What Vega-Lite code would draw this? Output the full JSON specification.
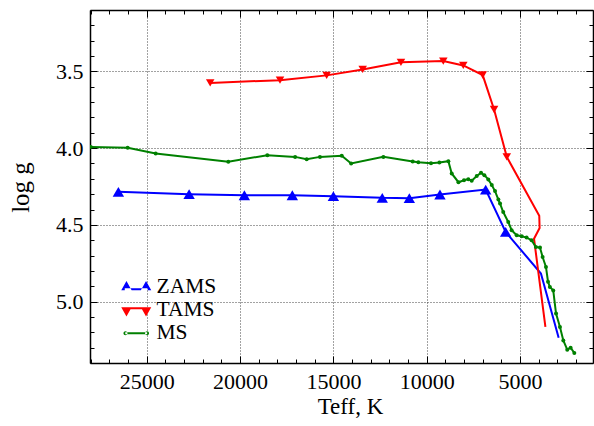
{
  "$schema": "https://vega.github.io/schema/vega-lite/v6.json",
  "width": 503,
  "height": 353,
  "autosize": "none",
  "padding": {"left": 90, "top": 10, "right": 1, "bottom": 63},
  "background": "white",
  "config": {
    "view": {"stroke": null},
    "font": "Liberation Serif",
    "axis": {
      "domainColor": "black",
      "domainWidth": 1.5,
      "tickColor": "black",
      "tickWidth": 1,
      "labelFont": "Liberation Serif",
      "labelFontSize": 22,
      "labelColor": "black",
      "titleFont": "Liberation Serif",
      "titleFontSize": 23,
      "titleFontWeight": "normal",
      "titleColor": "black",
      "gridColor": "#444444",
      "gridDash": [1, 2],
      "gridWidth": 1,
      "labelFlush": false,
      "labelOverlap": false,
      "labelBound": false
    }
  },
  "data": {
    "values": [
      {"s": "ZAMS", "i": 1, "T": 26520, "g": 4.285},
      {"s": "ZAMS", "i": 2, "T": 22730, "g": 4.300},
      {"s": "ZAMS", "i": 3, "T": 19770, "g": 4.307},
      {"s": "ZAMS", "i": 4, "T": 17200, "g": 4.307},
      {"s": "ZAMS", "i": 5, "T": 15000, "g": 4.313},
      {"s": "ZAMS", "i": 6, "T": 12380, "g": 4.324},
      {"s": "ZAMS", "i": 7, "T": 10930, "g": 4.326},
      {"s": "ZAMS", "i": 8, "T": 9290, "g": 4.302},
      {"s": "ZAMS", "i": 9, "T": 6840, "g": 4.270},
      {"s": "ZAMS", "i": 10, "T": 5770, "g": 4.546},
      {"s": "ZAMS", "i": 11, "T": 3880, "g": 4.817},
      {"s": "ZAMS", "i": 12, "T": 2930, "g": 5.235},
      {"s": "TAMS", "i": 13, "T": 21600, "g": 3.575},
      {"s": "TAMS", "i": 14, "T": 17860, "g": 3.557},
      {"s": "TAMS", "i": 15, "T": 15360, "g": 3.526},
      {"s": "TAMS", "i": 16, "T": 13430, "g": 3.487},
      {"s": "TAMS", "i": 17, "T": 11380, "g": 3.441},
      {"s": "TAMS", "i": 18, "T": 9110, "g": 3.433},
      {"s": "TAMS", "i": 19, "T": 8040, "g": 3.461},
      {"s": "TAMS", "i": 20, "T": 7000, "g": 3.524},
      {"s": "TAMS", "i": 21, "T": 6390, "g": 3.748},
      {"s": "TAMS", "i": 22, "T": 5710, "g": 4.057},
      {"s": "TAMS", "i": 23, "T": 3970, "g": 4.440},
      {"s": "TAMS", "i": 24, "T": 3950, "g": 4.520},
      {"s": "TAMS", "i": 25, "T": 4250, "g": 4.590},
      {"s": "TAMS", "i": 26, "T": 3640, "g": 5.165},
      {"s": "MS", "i": 27, "T": 28000, "g": 3.992},
      {"s": "MS", "i": 28, "T": 26020, "g": 3.998},
      {"s": "MS", "i": 29, "T": 24520, "g": 4.035},
      {"s": "MS", "i": 30, "T": 20630, "g": 4.088},
      {"s": "MS", "i": 31, "T": 18540, "g": 4.046},
      {"s": "MS", "i": 32, "T": 17050, "g": 4.057},
      {"s": "MS", "i": 33, "T": 16430, "g": 4.072},
      {"s": "MS", "i": 34, "T": 15720, "g": 4.057},
      {"s": "MS", "i": 35, "T": 14550, "g": 4.050},
      {"s": "MS", "i": 36, "T": 14050, "g": 4.100},
      {"s": "MS", "i": 37, "T": 12320, "g": 4.057},
      {"s": "MS", "i": 38, "T": 10750, "g": 4.087},
      {"s": "MS", "i": 39, "T": 10450, "g": 4.092},
      {"s": "MS", "i": 40, "T": 9770, "g": 4.098},
      {"s": "MS", "i": 41, "T": 9320, "g": 4.094},
      {"s": "MS", "i": 42, "T": 8840, "g": 4.085},
      {"s": "MS", "i": 43, "T": 8660, "g": 4.165},
      {"s": "MS", "i": 44, "T": 8300, "g": 4.222},
      {"s": "MS", "i": 45, "T": 8000, "g": 4.209},
      {"s": "MS", "i": 46, "T": 7770, "g": 4.202},
      {"s": "MS", "i": 47, "T": 7590, "g": 4.213},
      {"s": "MS", "i": 48, "T": 7320, "g": 4.181},
      {"s": "MS", "i": 49, "T": 7090, "g": 4.161},
      {"s": "MS", "i": 50, "T": 6910, "g": 4.176},
      {"s": "MS", "i": 51, "T": 6700, "g": 4.204},
      {"s": "MS", "i": 52, "T": 6515, "g": 4.240},
      {"s": "MS", "i": 53, "T": 6340, "g": 4.280},
      {"s": "MS", "i": 54, "T": 6160, "g": 4.335},
      {"s": "MS", "i": 55, "T": 6070, "g": 4.361},
      {"s": "MS", "i": 56, "T": 5900, "g": 4.416},
      {"s": "MS", "i": 57, "T": 5630, "g": 4.481},
      {"s": "MS", "i": 58, "T": 5450, "g": 4.535},
      {"s": "MS", "i": 59, "T": 5180, "g": 4.568},
      {"s": "MS", "i": 60, "T": 4910, "g": 4.574},
      {"s": "MS", "i": 61, "T": 4650, "g": 4.583},
      {"s": "MS", "i": 62, "T": 4380, "g": 4.600},
      {"s": "MS", "i": 63, "T": 4150, "g": 4.644},
      {"s": "MS", "i": 64, "T": 3930, "g": 4.648},
      {"s": "MS", "i": 65, "T": 3790, "g": 4.709},
      {"s": "MS", "i": 66, "T": 3610, "g": 4.774},
      {"s": "MS", "i": 67, "T": 3500, "g": 4.870},
      {"s": "MS", "i": 68, "T": 3400, "g": 4.905},
      {"s": "MS", "i": 69, "T": 3220, "g": 4.927},
      {"s": "MS", "i": 70, "T": 3070, "g": 5.078},
      {"s": "MS", "i": 71, "T": 2860, "g": 5.166},
      {"s": "MS", "i": 72, "T": 2680, "g": 5.253},
      {"s": "MS", "i": 73, "T": 2470, "g": 5.313},
      {"s": "MS", "i": 74, "T": 2290, "g": 5.300},
      {"s": "MS", "i": 75, "T": 2090, "g": 5.335}
    ]
  },
  "layer": [
    {
      "mark": {"type": "line", "strokeWidth": 2, "clip": true},
      "encoding": {
        "x": {
          "field": "T", "type": "quantitative",
          "scale": {"domain": [1090, 28040], "reverse": true, "nice": false, "zero": false},
          "axis": {
            "orient": "bottom",
            "values": [2000, 3000, 4000, 5000, 6000, 7000, 8000, 9000, 10000, 11000, 12000, 13000, 14000, 15000, 16000, 17000, 18000, 19000, 20000, 21000, 22000, 23000, 24000, 25000, 26000, 27000, 28000],
            "format": "d",
            "labelExpr": "datum.value % 5000 === 0 ? datum.label : ''",
            "tickSize": {"condition": {"test": "datum.value % 5000 === 0", "value": -7}, "value": -4},
            "labelPadding": 15,
            "grid": true,
            "gridOpacity": {"condition": {"test": "datum.value % 5000 === 0", "value": 1}, "value": 0},
            "title": "Teff, K",
            "titleX": 260,
            "titleY": 50,
            "titleAlign": "center",
            "titleBaseline": "alphabetic"
          }
        },
        "y": {
          "field": "g", "type": "quantitative",
          "scale": {"domain": [3.1, 5.4], "reverse": true, "nice": false, "zero": false},
          "axis": {
            "orient": "left",
            "values": [3.1, 3.2, 3.3, 3.4, 3.5, 3.6, 3.7, 3.8, 3.9, 4.0, 4.1, 4.2, 4.3, 4.4, 4.5, 4.6, 4.7, 4.8, 4.9, 5.0, 5.1, 5.2, 5.3, 5.4],
            "format": ".1f",
            "labelExpr": "abs(round(datum.value*2) - datum.value*2) < 0.001 ? datum.label : ''",
            "tickSize": {"condition": {"test": "abs(round(datum.value*2) - datum.value*2) < 0.001", "value": -7}, "value": -4},
            "labelPadding": 14,
            "grid": true,
            "gridOpacity": {"condition": {"test": "abs(round(datum.value*2) - datum.value*2) < 0.001", "value": 1}, "value": 0},
            "title": "log g",
            "titleFontSize": 25,
            "titleX": -62,
            "titleY": 177,
            "titleAlign": "center",
            "titleBaseline": "alphabetic"
          }
        },
        "stroke": {"field": "s", "type": "nominal", "scale": {"range": ["#008000", "#ff0000", "#0000ff"]}, "legend": null},
        "order": {"field": "i", "type": "quantitative"}
      }
    },
    {
      "transform": [{"filter": "datum.s === 'MS' || datum.T > 5000"}],
      "mark": {"type": "point", "filled": true, "opacity": 1, "clip": true},
      "encoding": {
        "x": {"field": "T", "type": "quantitative", "axis": null},
        "y": {"field": "g", "type": "quantitative", "axis": null},
        "fill": {"field": "s", "type": "nominal", "scale": {"range": ["#008000", "#ff0000", "#0000ff"]}, "legend": null},
        "shape": {"field": "s", "type": "nominal", "scale": {"range": ["circle", "triangle-down", "triangle-up"]}, "legend": null},
        "size": {"field": "s", "type": "ordinal", "scale": {"domain": ["MS", "TAMS", "ZAMS"], "range": [16, 130, 130]}, "legend": null}
      }
    },
    {
      "mark": {"type": "point", "filled": true, "opacity": 0},
      "encoding": {
        "x": {
          "field": "T", "type": "quantitative",
          "axis": {
            "orient": "top",
            "values": [2000, 3000, 4000, 5000, 6000, 7000, 8000, 9000, 10000, 11000, 12000, 13000, 14000, 15000, 16000, 17000, 18000, 19000, 20000, 21000, 22000, 23000, 24000, 25000, 26000, 27000, 28000],
            "labels": false,
            "grid": false,
            "title": null,
            "tickSize": {"condition": {"test": "datum.value % 5000 === 0", "value": -7}, "value": -4}
          }
        },
        "y": {
          "field": "g", "type": "quantitative",
          "axis": {
            "orient": "right",
            "values": [3.1, 3.2, 3.3, 3.4, 3.5, 3.6, 3.7, 3.8, 3.9, 4.0, 4.1, 4.2, 4.3, 4.4, 4.5, 4.6, 4.7, 4.8, 4.9, 5.0, 5.1, 5.2, 5.3, 5.4],
            "labels": false,
            "grid": false,
            "title": null,
            "tickSize": {"condition": {"test": "abs(round(datum.value*2) - datum.value*2) < 0.001", "value": -7}, "value": -4}
          }
        },
        "color": {
          "field": "s", "type": "nominal",
          "scale": {"domain": ["ZAMS", "TAMS", "MS"], "range": ["#0000ff", "#ff0000", "#008000"]},
          "legend": {
            "title": null,
            "orient": "none",
            "legendX": 35.5,
            "legendY": 266.5,
            "padding": 0,
            "symbolSize": 400,
            "labelFont": "Liberation Serif",
            "labelFontSize": 21.5,
            "labelColor": "black",
            "labelOffset": 9.5,
            "rowPadding": 0,
            "symbolOpacity": 1,
            "symbolStrokeWidth": 0,
            "encode": {"symbols": {"update": {"opacity": {"value": 1}, "fillOpacity": {"value": 1}}}}
          }
        },
        "shape": {
          "field": "s", "type": "nominal",
          "scale": {
            "domain": ["ZAMS", "TAMS", "MS"],
            "range": [
              "M-1.15,0.1L1.15,0.1L1.15,0.3L-1.15,0.3Z M-1.5,0.3L-0.46,0.3L-0.98,-0.62Z M0.46,0.3L1.5,0.3L0.98,-0.62Z",
              "M-1.15,-0.3L1.15,-0.3L1.15,-0.1L-1.15,-0.1Z M-1.5,-0.3L-0.46,-0.3L-0.98,0.62Z M0.46,-0.3L1.5,-0.3L0.98,0.62Z",
              "M-1.1,-0.1L1.1,-0.1L1.1,0.1L-1.1,0.1Z M-1.28,0A0.2,0.2 0 1,0 -0.88,0A0.2,0.2 0 1,0 -1.28,0Z M0.88,0A0.2,0.2 0 1,0 1.28,0A0.2,0.2 0 1,0 0.88,0Z"
            ]
          },
          "legend": {
            "title": null,
            "orient": "none",
            "legendX": 35.5,
            "legendY": 266.5,
            "padding": 0,
            "symbolSize": 400,
            "labelFont": "Liberation Serif",
            "labelFontSize": 21.5,
            "labelColor": "black",
            "labelOffset": 9.5,
            "rowPadding": 0,
            "symbolOpacity": 1,
            "symbolStrokeWidth": 0,
            "encode": {"symbols": {"update": {"opacity": {"value": 1}, "fillOpacity": {"value": 1}}}}
          }
        }
      }
    }
  ],
  "resolve": {
    "axis": {"x": "independent", "y": "independent"},
    "scale": {"color": "independent", "shape": "independent"}
  }
}
